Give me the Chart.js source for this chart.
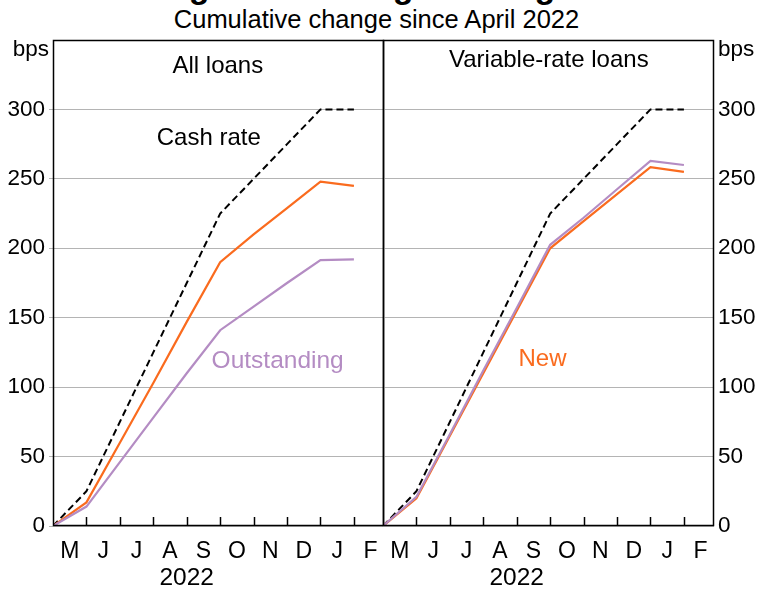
<!DOCTYPE html>
<html><head><meta charset="utf-8">
<script src="https://cdn.jsdelivr.net/npm/chart.js@4.4.0/dist/chart.umd.min.js"></script>
<style>
html,body{margin:0;padding:0;background:#fff;}
#wrap{position:relative;width:761px;height:592px;overflow:hidden;font-family:'Liberation Sans',Arial,sans-serif;color:#000;}
#title{position:absolute;left:0;width:761px;top:-31px;text-align:center;font-weight:bold;font-size:34px;line-height:34px;white-space:nowrap;}
#sub{position:absolute;left:0;width:753px;top:7px;text-align:center;font-size:25.5px;line-height:25.5px;white-space:nowrap;}
canvas{position:absolute;left:0;top:0;}
</style></head>
<body><div id="wrap">
<div id="title">Change in Housing Lending Rates</div>
<div id="sub">Cumulative change since April 2022</div>
<canvas id="cLeft" width="761" height="592"></canvas>
<canvas id="cRight" width="761" height="592"></canvas>
</div>
<script>
// ---- data (bps, cumulative change since April 2022; end-of-month observations) ----
const obsMonths = ['Apr','May','Jun','Jul','Aug','Sep','Oct','Nov','Dec','Jan'];
const monthLabels = ['M','J','J','A','S','O','N','D','J','F'];
const yearLabel = '2022';
const yTicks = [0,50,100,150,200,250,300];
const cashRate = [0,25,75,125,175,225,250,275,300,300];
const allNew = [0,17,60,103,147,190,210,229,248,245];
const allOutstanding = [0,14,46,78,110,141,158,175,191.5,192];
const varNew = [0,20,65,110,155,200,219.5,239,258.5,255];
const varOutstanding = [0,21,66,112,157,202.5,222,242.5,263,260];

const FONT = "'Liberation Sans', Arial, sans-serif";
const ORANGE = '#FA6B1E';
const PURPLE = '#B48CC3';
const toXY = arr => arr.map((v,i)=>({x:i,y:v}));

function ds(label, arr, color, dashed){
  return {label, data: toXY(arr), borderColor: color, borderWidth: dashed ? 2 : 2.2,
    borderDash: dashed ? [7,4] : [], pointRadius: 0, fill: false, tension: 0};
}

function framePlugin(annotations, isLeft){
  return {
    id: 'frame',
    beforeDatasetsDraw(chart){
      const {ctx, chartArea:a, scales} = chart;
      ctx.save();
      // inward tick marks at month boundaries
      ctx.strokeStyle = '#000'; ctx.lineWidth = 1.5;
      for (let i=1;i<obsMonths.length;i++){
        const px = Math.round(scales.x.getPixelForValue(i)) + 0.5;
        ctx.beginPath(); ctx.moveTo(px, a.bottom); ctx.lineTo(px, a.bottom-9); ctx.stroke();
      }
      ctx.restore();
    },
    afterDatasetsDraw(chart){
      const {ctx, chartArea:a, scales} = chart;
      ctx.save();
      ctx.strokeStyle = '#000'; ctx.lineWidth = 1.5;
      ctx.strokeRect(a.left+0.5, a.top+0.5, a.right-a.left-1, a.bottom-a.top-1);
      ctx.textAlign = 'center'; ctx.textBaseline = 'middle';
      annotations.forEach(t=>{
        ctx.fillStyle = t.color; ctx.font = `${t.size}px ${FONT}`;
        ctx.fillText(t.text, scales.x.getPixelForValue(t.x), scales.y.getPixelForValue(t.y));
      });
      // units label
      ctx.fillStyle = '#000'; ctx.font = `22.5px ${FONT}`;
      ctx.textAlign = isLeft ? 'right' : 'left';
      ctx.fillText('bps', isLeft ? a.left-4 : a.right+4, a.top+10);
      ctx.restore();
    }
  };
}

function makeChart(id, isLeft, datasets, annotations){
  return new Chart(document.getElementById(id), {
    type: 'line',
    data: {datasets},
    options: {
      responsive: false, animation: false,
      layout: {padding: {top: 40, bottom: 0, left: isLeft ? 0 : 383, right: isLeft ? 377 : 0}},
      plugins: {legend: {display: false}, tooltip: {enabled: false}},
      scales: {
        x: {type: 'linear', min: 0, max: 9.9, position: 'bottom', weight: 0,
          afterBuildTicks: s => { s.ticks = monthLabels.map((l,i)=>({value: i+0.5})); },
          ticks: {autoSkip: false, maxRotation: 0, color: '#000', padding: 14,
            font: {family: FONT, size: 23, lineHeight: 1},
            callback: (v,i) => monthLabels[i]},
          grid: {display: false, drawTicks: false}, border: {display: false},
          afterFit: s => { s.height = 38; }
        },
        x2: {type: 'linear', min: 0, max: 9.9, position: 'bottom', weight: 1,
          afterBuildTicks: s => { s.ticks = [{value: 4}]; },
          ticks: {autoSkip: false, maxRotation: 0, color: '#000', padding: 2,
            font: {family: FONT, size: 24.5, lineHeight: 1},
            callback: () => yearLabel},
          grid: {display: false, drawTicks: false}, border: {display: false},
          afterFit: s => { s.height = 28; }
        },
        y: {type: 'linear', min: 0, max: 350, position: isLeft ? 'left' : 'right',
          afterBuildTicks: s => { s.ticks = yTicks.map(v=>({value: v})); },
          ticks: {color: '#000', padding: 4, font: {family: FONT, size: 22.5}},
          grid: {color: '#B4B4B4', lineWidth: 1, drawTicks: isLeft, tickLength: 4},
          border: {display: false},
          afterFit: s => { s.width = isLeft ? 53 : 47; }
        }
      }
    },
    plugins: [framePlugin(annotations, isLeft)]
  });
}

makeChart('cLeft', true, [
  ds('Outstanding', allOutstanding, PURPLE, false),
  ds('New', allNew, ORANGE, false),
  ds('Cash rate', cashRate, '#000', true)
], [
  {text: 'All loans', x: 4.93, y: 331, color: '#000', size: 24},
  {text: 'Cash rate', x: 4.66, y: 279, color: '#000', size: 24},
  {text: 'Outstanding', x: 6.72, y: 118.5, color: PURPLE, size: 24.5}
]);

makeChart('cRight', false, [
  ds('Outstanding', varOutstanding, PURPLE, false),
  ds('New', varNew, ORANGE, false),
  ds('Cash rate', cashRate, '#000', true)
], [
  {text: 'Variable-rate loans', x: 4.96, y: 335.5, color: '#000', size: 24},
  {text: 'New', x: 4.77, y: 120, color: ORANGE, size: 24}
]);
</script>
</body></html>
